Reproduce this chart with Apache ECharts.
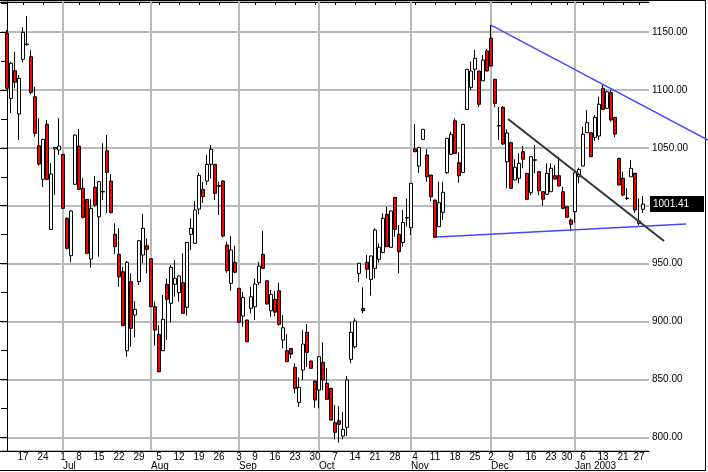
<!DOCTYPE html>
<html>
<head>
<meta charset="utf-8">
<script src="https://cdn.jsdelivr.net/npm/echarts@6/dist/echarts.min.js"></script>
<style>
html,body{margin:0;padding:0;background:#fff;}
#chart{width:708px;height:472px;}
</style>
</head>
<body>
<div id="chart"></div>
<script>
// Trading days shown (Jun 11 2002 - Jan 28 2003)
const dates = [
'2002-06-11','2002-06-12','2002-06-13','2002-06-14','2002-06-17','2002-06-18','2002-06-19','2002-06-20','2002-06-21','2002-06-24','2002-06-25','2002-06-26','2002-06-27','2002-06-28',
'2002-07-01','2002-07-02','2002-07-03','2002-07-05','2002-07-08','2002-07-09','2002-07-10','2002-07-11','2002-07-12','2002-07-15','2002-07-16','2002-07-17','2002-07-18','2002-07-19','2002-07-22','2002-07-23','2002-07-24','2002-07-25','2002-07-26','2002-07-29','2002-07-30','2002-07-31',
'2002-08-01','2002-08-02','2002-08-05','2002-08-06','2002-08-07','2002-08-08','2002-08-09','2002-08-12','2002-08-13','2002-08-14','2002-08-15','2002-08-16','2002-08-19','2002-08-20','2002-08-21','2002-08-22','2002-08-23','2002-08-26','2002-08-27','2002-08-28','2002-08-29','2002-08-30',
'2002-09-03','2002-09-04','2002-09-05','2002-09-06','2002-09-09','2002-09-10','2002-09-11','2002-09-12','2002-09-13','2002-09-16','2002-09-17','2002-09-18','2002-09-19','2002-09-20','2002-09-23','2002-09-24','2002-09-25','2002-09-26','2002-09-27','2002-09-30',
'2002-10-01','2002-10-02','2002-10-03','2002-10-04','2002-10-07','2002-10-08','2002-10-09','2002-10-10','2002-10-11','2002-10-14','2002-10-15','2002-10-16','2002-10-17','2002-10-18','2002-10-21','2002-10-22','2002-10-23','2002-10-24','2002-10-25','2002-10-28','2002-10-29','2002-10-30','2002-10-31',
'2002-11-01','2002-11-04','2002-11-05','2002-11-06','2002-11-07','2002-11-08','2002-11-11','2002-11-12','2002-11-13','2002-11-14','2002-11-15','2002-11-18','2002-11-19','2002-11-20','2002-11-21','2002-11-22','2002-11-25','2002-11-26','2002-11-27','2002-11-29',
'2002-12-02','2002-12-03','2002-12-04','2002-12-05','2002-12-06','2002-12-09','2002-12-10','2002-12-11','2002-12-12','2002-12-13','2002-12-16','2002-12-17','2002-12-18','2002-12-19','2002-12-20','2002-12-23','2002-12-24','2002-12-26','2002-12-27','2002-12-30','2002-12-31',
'2003-01-02','2003-01-03','2003-01-06','2003-01-07','2003-01-08','2003-01-09','2003-01-10','2003-01-13','2003-01-14','2003-01-15','2003-01-16','2003-01-17','2003-01-21','2003-01-22','2003-01-23','2003-01-24','2003-01-27','2003-01-28'
];

const opens = [
1148.9,1092.7,1116.6,1079.2,1126.4,1139.0,1128.7,1094.1,1051.8,1022.8,1070.3,979.6,1049.0,1048.1,
1044.4,989.1,956.8,1018.5,1051.5,1015.0,1005.5,954.0,1015.9,990.5,1012.3,1047.5,1021.3,975.3,958.0,943.0,874.8,934.4,905.6,934.4,957.4,965.4,
954.2,912.8,888.9,874.8,932.1,915.7,932.1,924.9,933.5,912.3,975.3,967.5,997.1,1014.2,1021.3,1035.7,1035.7,1017.3,1021.3,966.1,933.0,951.1,
928.7,904.7,901.3,911.4,912.8,933.5,958.0,935.2,909.3,919.2,926.6,884.0,874.8,876.8,860.4,830.2,858.1,890.7,865.9,848.6,
840.8,864.8,846.6,842.3,812.6,814.3,801.1,808.6,867.3,878.2,941.6,911.4,951.1,936.4,945.9,953.7,959.7,992.6,964.1,1007.2,975.3,968.2,989.9,
981.0,1049.0,1034.3,1057.3,1043.8,1026.5,1004.9,981.9,994.3,1028.5,1044.4,1073.4,1037.1,1028.8,1083.2,1102.2,1117.8,1116.3,1107.9,1133.6,
1144.6,1109.2,1069.3,1085.0,1038.0,1054.4,1022.2,1023.7,1046.6,1028.0,1011.2,1039.6,1029.4,1012.1,1009.8,1012.1,1025.9,1025.9,1012.1,999.1,987.6,
994.8,1025.0,1034.3,1063.0,1063.0,1059.1,1060.2,1101.4,1084.1,1097.6,1076.3,1040.9,1023.7,1006.6,1025.0,1028.0,984.8,996.9
];
const closes = [
1101.4,1123.0,1106.6,1110.0,1149.7,1139.6,1097.9,1062.5,1036.0,1057.3,1022.8,1027.4,1050.1,1051.5,
997.7,963.2,995.4,1061.0,1014.2,990.0,958.9,997.7,1000.6,1020.7,1011.8,1028.8,994.0,964.6,938.7,896.4,951.1,894.1,910.5,969.8,980.5,962.3,
912.8,892.6,856.6,901.9,919.2,946.8,937.3,939.3,907.1,968.4,980.5,996.3,1026.2,1007.8,1035.7,1048.7,1010.7,1016.8,973.8,943.9,961.7,942.5,
899.3,920.9,882.5,921.4,932.4,947.9,945.9,915.1,923.5,908.1,897.6,894.6,865.3,871.9,842.3,843.2,880.6,873.4,859.6,832.2,
869.6,849.5,832.8,814.9,804.3,811.2,806.9,849.5,890.7,900.4,950.3,909.3,945.1,956.6,979.0,964.1,989.1,964.6,995.4,979.6,960.3,985.5,989.4,
1019.3,1046.6,1050.4,1066.0,1025.0,1007.8,972.7,1002.6,1011.6,1058.2,1061.7,1045.2,1025.9,1070.3,1117.8,1116.3,1127.3,1087.6,1125.8,1116.3,
1120.6,1088.4,1068.8,1053.3,1062.8,1015.0,1033.2,1036.6,1040.1,1005.5,1042.3,1039.3,1012.9,1005.5,1028.0,1032.3,1023.0,1017.0,997.7,990.0,983.9,
1028.5,1031.4,1061.7,1071.7,1042.3,1076.3,1087.6,1083.2,1098.4,1074.0,1061.9,1017.9,1009.2,1006.1,1032.3,996.3,986.8,1001.41
];
const lows = [
1100.5,1080.1,1101.4,1056.7,1123.8,1138.3,1096.2,1059.6,1034.5,1016.1,1022.2,979.0,1009.2,1043.8,
997.1,962.3,951.1,1018.0,1013.5,989.1,958.5,946.8,999.1,956.0,1004.9,993.4,993.4,958.3,930.0,896.0,869.6,878.2,886.3,931.5,950.3,941.6,
912.5,879.1,856.4,874.5,884.0,899.3,921.4,917.1,906.9,905.0,961.7,967.4,992.6,1002.3,1017.9,1023.7,1004.9,991.9,972.7,942.1,926.6,941.6,
899.1,895.5,882.3,907.1,901.3,931.5,945.8,914.8,904.1,904.7,896.4,876.8,865.0,868.2,838.0,826.2,849.5,860.9,859.4,825.5,
825.0,840.8,832.6,814.7,798.3,795.3,798.3,801.1,863.9,876.8,934.1,907.1,937.3,922.3,937.3,950.8,959.6,964.3,963.9,973.2,941.6,964.6,981.9,
974.7,1046.4,1028.5,1057.2,1020.7,1004.1,972.5,981.6,987.6,1027.4,1043.8,1045.1,1019.9,1028.7,1082.6,1099.9,1108.5,1085.5,1107.7,1116.1,
1119.8,1085.0,1056.7,1052.4,1015.0,1014.8,1021.9,1019.3,1032.3,1005.3,1009.2,1028.0,1009.2,1000.0,1009.7,1011.8,1022.8,1016.8,996.9,989.8,978.1,
985.3,1019.3,1034.0,1062.8,1042.0,1056.1,1056.7,1083.1,1083.9,1072.5,1059.1,1017.6,1008.4,1004.9,1024.8,993.7,983.3,993.7
];
const highs = [
1151.7,1124.4,1133.0,1112.9,1154.1,1163.8,1134.5,1102.8,1075.5,1057.6,1074.0,1036.6,1050.9,1075.5,
1044.6,990.0,996.3,1061.5,1066.2,1023.7,1005.8,1005.5,1025.6,1021.0,1053.9,1061.0,1027.4,984.8,980.5,947.3,952.2,941.6,917.7,970.4,992.8,971.8,
954.3,917.1,897.0,922.9,937.3,948.8,953.1,940.1,958.9,968.6,989.1,1004.1,1028.5,1020.5,1043.8,1052.4,1036.0,1020.7,1022.2,968.9,973.8,965.4,
928.9,925.7,901.7,930.0,937.3,951.6,978.1,935.4,927.2,926.6,933.5,905.6,889.2,877.1,863.9,851.8,892.6,897.8,866.3,849.0,
869.8,882.0,859.6,842.6,827.9,827.0,822.1,852.9,899.8,902.8,950.5,929.5,957.4,956.7,980.5,967.5,993.4,999.1,995.6,1007.5,983.3,996.3,1006.4,
1019.6,1070.5,1050.7,1066.2,1049.0,1026.6,1005.1,1020.7,1020.7,1058.5,1063.9,1075.5,1046.1,1070.5,1118.0,1124.4,1134.5,1116.5,1130.1,1135.3,
1156.0,1109.4,1085.2,1086.1,1066.0,1055.3,1040.1,1045.2,1051.5,1028.2,1042.5,1052.4,1029.5,1012.3,1036.6,1036.6,1035.1,1042.3,1016.4,999.3,989.1,
1028.7,1032.8,1068.2,1082.6,1063.2,1078.3,1094.1,1104.2,1099.3,1099.9,1076.6,1041.2,1029.4,1015.0,1039.5,1028.2,1006.4,1008.3
];

// Trend lines: [trading-day index into dates, price]
const trendUpper = [[121, 1156.0], [175.25, 1056.7]];
const trendLower = [[107.5, 973.0], [169.75, 984.2]];
const trendBlack = [[125.25, 1074.9], [164.25, 969.5]];

// Price axis tick values
const yTickValues = [800, 850, 900, 950, 1000, 1050, 1100, 1150];
const yMin = 788.2, yMax = 1175.9;
const monthNames = ['Jan','Feb','Mar','Apr','May','Jun','Jul','Aug','Sep','Oct','Nov','Dec'];

// categories: one empty slot before and after the data
const cats = ['2002-06-10'].concat(dates, ['2003-01-29']);
const weekStart = new Set(), monthStart = new Set(), monthStartIdx = [];
for (let k = 1; k < dates.length; k++) {
  const d = new Date(dates[k] + 'T00:00:00Z'), p = new Date(dates[k - 1] + 'T00:00:00Z');
  if (d.getUTCDay() < p.getUTCDay() || (d - p) > 4 * 864e5) weekStart.add(k + 1);
  if (d.getUTCMonth() !== p.getUTCMonth()) { monthStart.add(k + 1); monthStartIdx.push(k); }
}
const candleData = cats.map((c, j) => {
  if (j === 0 || j === cats.length - 1) return ['-', '-', '-', '-'];
  const k = j - 1;
  return [opens[k], closes[k], lows[k], highs[k]];
});
const lastClose = closes[closes.length - 1];

const FONT = 'Liberation Sans';
const chart = echarts.init(document.getElementById('chart'), null, {renderer: 'canvas'});
chart.setOption({
  animation: false,
  backgroundColor: '#ffffff',
  textStyle: {fontFamily: FONT},
  grid: {left: 1, top: 2, width: 648, height: 449, containLabel: false},
  xAxis: [
    {
      type: 'category', data: cats, position: 'bottom', boundaryGap: true,
      axisLine: {lineStyle: {color: '#000', width: 1}},
      axisTick: {show: false},
      axisLabel: {
        interval: (i) => weekStart.has(i),
        formatter: (v) => String(Number(v.slice(8, 10))),
        color: '#000', fontSize: 10, fontFamily: FONT, margin: 1
      },
      splitLine: {show: false}
    },
    {
      type: 'category', data: cats, position: 'bottom', offset: 10, boundaryGap: true,
      axisLine: {show: false}, axisTick: {show: false},
      axisLabel: {
        interval: (i) => monthStart.has(i),
        formatter: (v) => { const m = Number(v.slice(5, 7)) - 1; return m === 0 ? monthNames[m] + ' ' + v.slice(0, 4) : monthNames[m]; },
        align: 'left', color: '#000', fontSize: 10, fontFamily: FONT, margin: 0
      },
      splitLine: {show: false}
    },
    {
      type: 'category', data: cats, position: 'top', boundaryGap: true,
      axisLine: {lineStyle: {color: '#000', width: 1}},
      axisTick: {show: true, inside: true, length: 3, alignWithLabel: true, interval: (i) => weekStart.has(i), lineStyle: {color: '#000'}},
      axisLabel: {show: false},
      splitLine: {show: false}
    },
    {type: 'value', min: -1.5, max: 160.5, show: false}
  ],
  yAxis: [
    {
      type: 'value', position: 'right', min: yMin, max: yMax, minInterval: 50, maxInterval: 50,
      axisLine: {show: true, lineStyle: {color: '#000', width: 1}},
      axisTick: {show: true, inside: true, length: 9, lineStyle: {color: '#000'}},
      minorTick: {show: true, splitNumber: 2, length: 5, lineStyle: {color: '#000'}},
      axisLabel: {
        showMinLabel: false, showMaxLabel: false, margin: 3,
        formatter: (v) => (yTickValues.indexOf(Math.round(v * 100) / 100) >= 0 ? v.toFixed(2) : ''),
        color: '#000', fontSize: 10, fontFamily: FONT
      },
      splitLine: {show: true, lineStyle: {color: '#b9b9b9', width: 2}}
    },
    {
      type: 'value', position: 'left', min: yMin, max: yMax, minInterval: 50, maxInterval: 50,
      axisLine: {show: false},
      axisTick: {show: true, inside: true, length: 3, lineStyle: {color: '#000'}},
      minorTick: {show: true, splitNumber: 2, length: 3, lineStyle: {color: '#000'}},
      axisLabel: {show: false},
      splitLine: {show: false}
    }
  ],
  series: [
    {
      name: 'months', type: 'line', xAxisIndex: 3, yAxisIndex: 0, data: [], z: 1,
      markLine: {
        silent: true, symbol: 'none', z: 1, animation: false,
        lineStyle: {color: '#b9b9b9', width: 2, type: 'solid'},
        label: {show: false},
        data: monthStartIdx.map((k) => ({xAxis: k}))
      }
    },
    {
      name: 'price', type: 'candlestick', xAxisIndex: 0, yAxisIndex: 0, z: 3,
      data: candleData, barWidth: 3,
      itemStyle: {color: '#ffffff', color0: '#ff0000', borderColor: '#000000', borderColor0: '#000000', borderWidth: 1}
    },
    {
      // invisible carrier of the trend line geometry (drawn below with graphics so it may extend past the plot)
      name: 'trend', type: 'line', xAxisIndex: 3, yAxisIndex: 0, data: trendUpper,
      symbol: 'none', silent: true, lineStyle: {opacity: 0}
    }
  ]
});

// Trend lines and last-price tag, positioned through the chart's own scales
const px = (pt) => chart.convertToPixel({seriesIndex: 2}, pt);
const seg = (line, color, width) => {
  const a = px(line[0]), b = px(line[1]);
  return {type: 'line', silent: true, z: 50, shape: {x1: a[0], y1: a[1], x2: b[0], y2: b[1]}, style: {stroke: color, lineWidth: width}};
};
const lastY = chart.convertToPixel({yAxisIndex: 0}, lastClose);
const rightX = chart.convertToPixel({xAxisIndex: 3}, 160.5);
chart.setOption({
  graphic: [
    seg(trendUpper, '#4646ff', 1.5),
    seg(trendLower, '#4646ff', 1.5),
    seg(trendBlack, '#333333', 2),
    {type: 'rect', silent: true, z: 60, shape: {x: rightX + 1, y: lastY - 8, width: 54, height: 16}, style: {fill: '#000'}},
    {type: 'text', silent: true, z: 61, x: rightX + 4, y: lastY, style: {text: lastClose.toFixed(2), fill: '#fff', font: '10px "Liberation Sans"', verticalAlign: 'middle', align: 'left'}},
    {type: 'line', silent: true, z: 40, shape: {x1: 705.5, y1: 0, x2: 705.5, y2: 471}, style: {stroke: '#000', lineWidth: 1}},
    {type: 'line', silent: true, z: 40, shape: {x1: 0, y1: 470.5, x2: 706, y2: 470.5}, style: {stroke: '#000', lineWidth: 1}},
    {type: 'line', silent: true, z: 40, shape: {x1: 0, y1: 0.5, x2: 706, y2: 0.5}, style: {stroke: '#000', lineWidth: 1}}
  ]
});
</script>
</body>
</html>
